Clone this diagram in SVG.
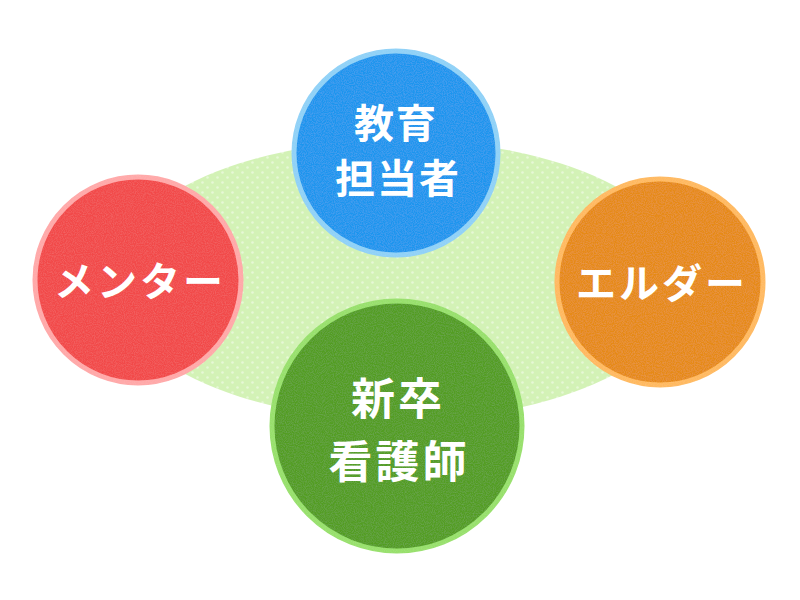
<svg xmlns="http://www.w3.org/2000/svg" width="800" height="600" viewBox="0 0 800 600">
<defs>
<pattern id="dots" width="10" height="10" patternUnits="userSpaceOnUse">
<rect width="10" height="10" fill="#d3f2b6"/>
<circle cx="2.5" cy="2.5" r="1.3" fill="#e6f8d6"/>
<circle cx="7.5" cy="7.5" r="1.3" fill="#e6f8d6"/>
</pattern>
<filter id="felt" x="-5%" y="-5%" width="110%" height="110%">
<feTurbulence type="fractalNoise" baseFrequency="0.9" numOctaves="2" seed="3" result="n"/>
<feColorMatrix in="n" type="matrix" values="0 0 0 0 1  0 0 0 0 1  0 0 0 0 1  0 0 0 0.12 -0.04" result="a"/>
<feComposite in="a" in2="SourceGraphic" operator="in" result="t"/>
<feMerge><feMergeNode in="SourceGraphic"/><feMergeNode in="t"/></feMerge>
</filter>
<style>
.lbl{font-family:"Noto Sans CJK JP","Noto Sans",sans-serif;font-weight:700;fill:#ffffff;text-anchor:middle}
.c{stroke-width:5}
</style>
</defs>
<rect width="800" height="600" fill="#ffffff"/>
<g id="connectors">
<ellipse cx="400" cy="280" rx="290" ry="140" fill="url(#dots)"/>
</g>
<g id="node-mentor">
<circle class="c" cx="138" cy="280" r="103" fill="#f24a4a" stroke="#ffa8a8" filter="url(#felt)"/>
<text class="lbl" x="140" y="296" font-size="40" letter-spacing="3">メンター</text>
</g>
<g id="node-elder">
<circle class="c" cx="660" cy="282" r="103" fill="#e68a12" stroke="#ffb95e" filter="url(#felt)"/>
<text class="lbl" x="662" y="298" font-size="40" letter-spacing="3">エルダー</text>
</g>
<g id="node-educator">
<circle class="c" cx="396" cy="153" r="102" fill="#1f95ee" stroke="#8fd1f7" filter="url(#felt)"/>
<text class="lbl" x="396" y="138" font-size="40" letter-spacing="2">教育</text>
<text class="lbl" x="398" y="193" font-size="40" letter-spacing="2">担当者</text>
</g>
<g id="node-newnurse">
<circle class="c" cx="397" cy="426" r="125" fill="#529d24" stroke="#97e06b" filter="url(#felt)"/>
<text class="lbl" x="398" y="415" font-size="44" letter-spacing="3">新卒</text>
<text class="lbl" x="399" y="478" font-size="44" letter-spacing="3">看護師</text>
</g>
</svg>
